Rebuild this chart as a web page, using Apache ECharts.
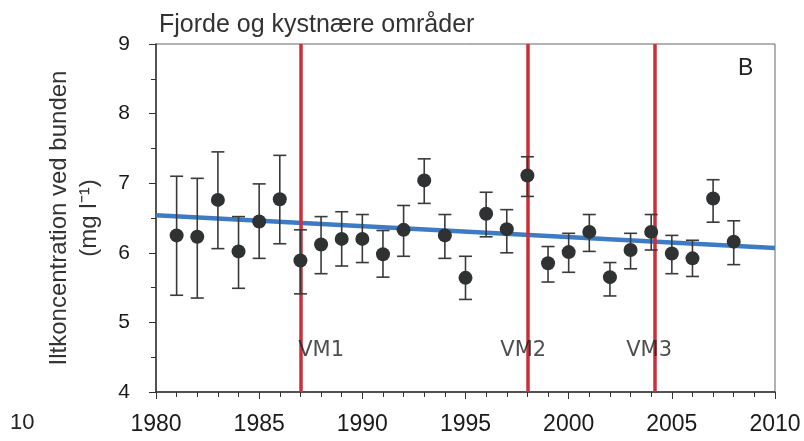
<!DOCTYPE html>
<html>
<head>
<meta charset="utf-8">
<script src="https://cdn.jsdelivr.net/npm/echarts@6.0.0/dist/echarts.min.js"></script>
<style>
  html, body { margin: 0; padding: 0; background: #fff; }
  #chart { width: 804px; height: 441px; }
</style>
</head>
<body>
<div id="chart"></div>
<script>
// yearly means and error bar limits
const years = [1981, 1982, 1983, 1984, 1985, 1986, 1987, 1988, 1989, 1990, 1991, 1992, 1993, 1994,
  1995, 1996, 1997, 1998, 1999, 2000, 2001, 2002, 2003, 2004, 2005, 2006, 2007, 2008]
const means = [6.25, 6.23, 6.76, 6.02, 6.45, 6.77, 5.89, 6.12, 6.20, 6.20, 5.98, 6.33, 7.04, 6.25,
  5.64, 6.56, 6.34, 7.11, 5.85, 6.01, 6.30, 5.65, 6.04, 6.30, 5.99, 5.92, 6.78, 6.16]
const upper = [7.10, 7.07, 7.45, 6.52, 6.99, 7.40, 6.33, 6.52, 6.59, 6.55, 6.32, 6.68, 7.35, 6.55,
  5.95, 6.87, 6.62, 7.38, 6.09, 6.28, 6.55, 5.86, 6.28, 6.55, 6.25, 6.18, 7.05, 6.46]
const lower = [5.39, 5.35, 6.06, 5.49, 5.92, 6.13, 5.41, 5.70, 5.81, 5.86, 5.65, 5.95, 6.71, 5.92,
  5.33, 6.23, 6.00, 6.81, 5.58, 5.72, 6.02, 5.38, 5.77, 6.04, 5.70, 5.66, 6.44, 5.83]

// linear trend, end points
const trendYears = [1980, 2010]
const trendValues = [6.54, 6.07]

// management plan markers
const vmYears = [1987, 1998, 2004.15]
const vmNames = ['VM1', 'VM2', 'VM3']
const vmLabelX = [1988, 1997.8, 2003.9]
const vmLabelY = 4.6

const xTicks = [1980, 1985, 1990, 1995, 2000, 2005, 2010]

const chart = echarts.init(document.getElementById('chart'))

const font = 'Liberation Sans, Arial, sans-serif'

const option = {
  animation: false,
  backgroundColor: '#fff',
  grid: {
    left: 156,
    right: 29,
    top: 44,
    bottom: 49,
    show: true,
    borderColor: '#666',
    borderWidth: 1
  },
  graphic: [
    {
      type: 'text',
      left: 159,
      top: 13,
      style: { text: 'Fjorde og kystnære områder', fontSize: 25, fontFamily: font, fill: '#333' }
    },
    {
      type: 'text',
      left: 738,
      top: 57,
      style: { text: 'B', fontSize: 23, fontFamily: font, fill: '#222' }
    },
    {
      type: 'text',
      left: 10,
      top: 412,
      style: { text: '10', fontSize: 22, fontFamily: font, fill: '#222' }
    }
  ],
  xAxis: {
    type: 'value',
    min: xTicks[0],
    max: xTicks[xTicks.length - 1],
    interval: 5,
    axisLine: { lineStyle: { color: '#333', width: 1.5 } },
    axisTick: { show: true, length: 7, lineStyle: { color: '#333' } },
    minorTick: { show: true, splitNumber: 5, length: 5, lineStyle: { color: '#333' } },
    splitLine: { show: false },
    axisLabel: {
      fontSize: 23,
      fontFamily: font,
      color: '#1a1a1a',
      margin: 21,
      formatter: (v) => String(v)
    }
  },
  yAxis: {
    type: 'value',
    min: 4,
    max: 9,
    interval: 1,
    name: 'Iltkoncentration ved bunden\n(mg l⁻¹)',
    nameLocation: 'middle',
    nameGap: 52,
    nameTextStyle: { fontSize: 24, fontFamily: font, color: '#333', lineHeight: 30 },
    axisLine: { show: true, lineStyle: { color: '#333', width: 1.5 } },
    axisTick: { show: true, length: 7, lineStyle: { color: '#333' } },
    minorTick: { show: true, splitNumber: 2, length: 5, lineStyle: { color: '#333' } },
    splitLine: { show: false },
    axisLabel: {
      fontSize: 21,
      fontFamily: font,
      color: '#1a1a1a',
      margin: 26
    }
  },
  series: [
    {
      name: 'trend',
      type: 'line',
      data: trendYears.map((y, i) => [y, trendValues[i]]),
      symbol: 'none',
      lineStyle: { color: '#3d7cc4', width: 4.5 },
      z: 3
    },
    {
      name: 'vm',
      type: 'line',
      data: [],
      markLine: {
        symbol: 'none',
        silent: true,
        label: { show: false },
        lineStyle: { color: '#cc2f3a', width: 3.5, type: 'solid' },
        data: vmYears.map((y) => ({ xAxis: y }))
      },
      z: 4
    },
    {
      name: 'vmLabels',
      type: 'scatter',
      symbolSize: 0,
      data: vmLabelX.map((x, i) => ({ value: [x, vmLabelY], name: vmNames[i] })),
      label: {
        show: true,
        position: 'inside',
        formatter: (p) => p.name,
        fontSize: 21,
        fontFamily: 'DejaVu Sans, sans-serif',
        color: '#222'
      },
      z: 5
    },
    {
      name: 'errors',
      type: 'custom',
      data: years.map((y, i) => [y, lower[i], upper[i]]),
      renderItem: function (params, api) {
        const lo = api.coord([api.value(0), api.value(1)])
        const hi = api.coord([api.value(0), api.value(2)])
        const w = 6.5
        const style = { stroke: '#3a3a3a', lineWidth: 1.6 }
        return {
          type: 'group',
          children: [
            { type: 'line', shape: { x1: lo[0], y1: lo[1], x2: hi[0], y2: hi[1] }, style: style },
            { type: 'line', shape: { x1: lo[0] - w, y1: lo[1], x2: lo[0] + w, y2: lo[1] }, style: style },
            { type: 'line', shape: { x1: hi[0] - w, y1: hi[1], x2: hi[0] + w, y2: hi[1] }, style: style }
          ]
        }
      },
      z: 6
    },
    {
      name: 'means',
      type: 'scatter',
      data: years.map((y, i) => [y, means[i]]),
      symbol: 'circle',
      symbolSize: 14,
      itemStyle: { color: '#2f3233', opacity: 1 },
      z: 7
    }
  ]
}

chart.setOption(option)
</script>
</body>
</html>
